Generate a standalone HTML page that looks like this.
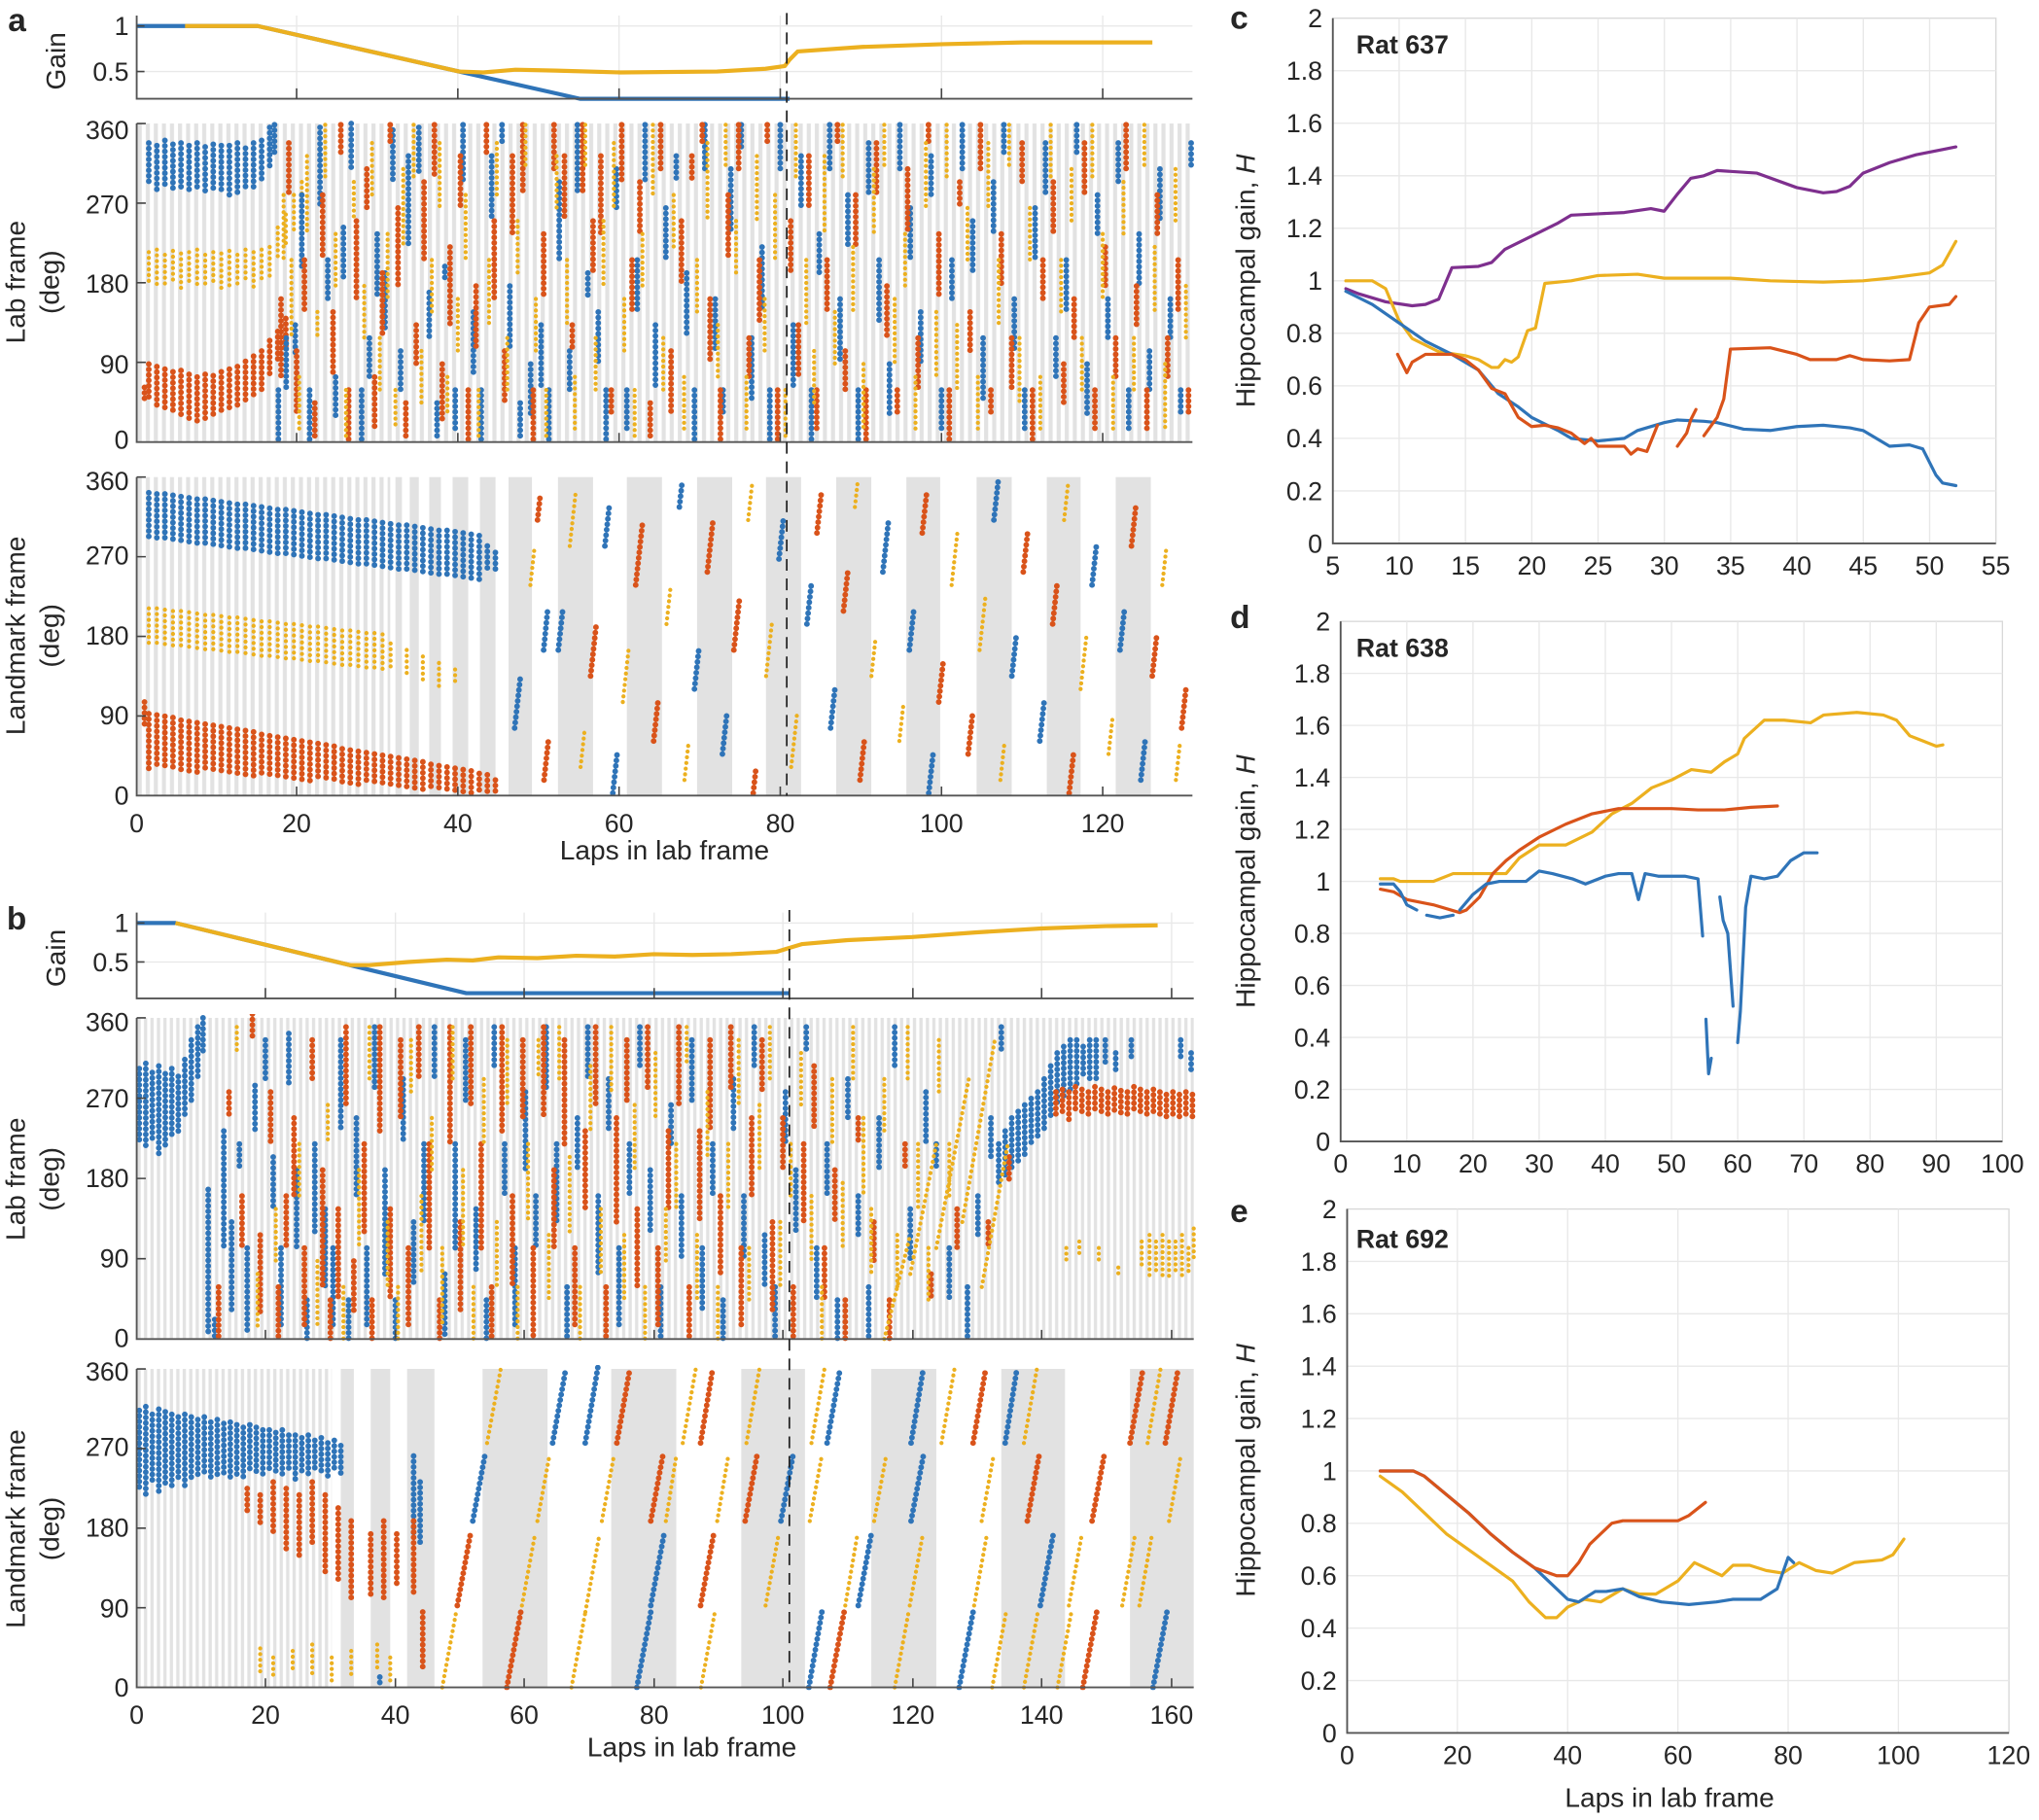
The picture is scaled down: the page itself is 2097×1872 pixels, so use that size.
<!DOCTYPE html>
<html><head><meta charset="utf-8"><style>
html,body{margin:0;padding:0;background:#fff}
svg{display:block}
text{font-family:"Liberation Sans",sans-serif;fill:#262626}
.b,.r,.y{fill:none;stroke-linecap:round}
.b{stroke:#2f74b8;stroke-width:4.4;stroke-dasharray:0 4.2}
.r{stroke:#d9531a;stroke-width:4.4;stroke-dasharray:0 4.2}
.y{stroke:#ecb01f;stroke-width:3.2;stroke-dasharray:0 4.4}
.ax{fill:none;stroke:#555;stroke-width:1.4}
.tk{fill:none;stroke:#444;stroke-width:1.2}
.gr{fill:none;stroke:#e8e8e8;stroke-width:1}
.ln{fill:none;stroke-width:3.2;stroke-linejoin:round;stroke-linecap:round;vector-effect:non-scaling-stroke}
.gl{fill:none;stroke-width:4.2;stroke-linejoin:round;vector-effect:non-scaling-stroke}
</style></head><body>
<svg xmlns="http://www.w3.org/2000/svg" width="2097" height="1872" viewBox="0 0 1568 1400">
<defs>
<pattern id="pa" patternUnits="userSpaceOnUse" x="105" y="0" width="6.2" height="20"><rect x="0.8" y="0" width="3.1" height="20" fill="#e2e2e2"/></pattern>
<pattern id="pb" patternUnits="userSpaceOnUse" x="105" y="0" width="4.97" height="20"><rect x="0.6" y="0" width="2.5" height="20" fill="#e2e2e2"/></pattern>
<clipPath id="cla"><rect x="103" y="92" width="816" height="250"/></clipPath>
<clipPath id="cma"><rect x="103" y="364" width="816" height="250"/></clipPath>
<clipPath id="clb"><rect x="103" y="780" width="817" height="252"/></clipPath>
<clipPath id="cmb"><rect x="103" y="1050" width="817" height="250"/></clipPath>
</defs>
<rect width="1568" height="1400" fill="#fff"/>

<rect x="105" y="95" width="812" height="245" fill="url(#pa)"/>
<rect x="105" y="367" width="195" height="245" fill="url(#pa)"/>
<g fill="#e2e2e2">
<rect x="304" y="367" width="5" height="245"/><rect x="315" y="367" width="7" height="245"/><rect x="330" y="367" width="9" height="245"/><rect x="348" y="367" width="12" height="245"/><rect x="369" y="367" width="12" height="245"/>
<rect x="391" y="367" width="18" height="245"/><rect x="429" y="367" width="27" height="245"/><rect x="482" y="367" width="27" height="245"/><rect x="536" y="367" width="27" height="245"/><rect x="589" y="367" width="27" height="245"/><rect x="643" y="367" width="27" height="245"/><rect x="697" y="367" width="26" height="245"/><rect x="751" y="367" width="27" height="245"/><rect x="805" y="367" width="26" height="245"/><rect x="858" y="367" width="27" height="245"/>
</g>
<rect x="105" y="783" width="813" height="247" fill="url(#pb)"/>
<rect x="105" y="1053" width="150" height="245" fill="url(#pb)"/>
<g fill="#e2e2e2">
<rect x="262" y="1053" width="10" height="245"/><rect x="285" y="1053" width="15" height="245"/><rect x="313" y="1053" width="21" height="245"/><rect x="371" y="1053" width="50" height="245"/><rect x="470" y="1053" width="50" height="245"/><rect x="570" y="1053" width="49" height="245"/><rect x="670" y="1053" width="50" height="245"/><rect x="770" y="1053" width="49" height="245"/><rect x="869" y="1053" width="49" height="245"/>
</g>

<path class="gr" d="M105 20H917M105 55H917M228 12V76M352 12V76M476 12V76M600 12V76M724 12V76M848 12V76"/>
<path class="gr" d="M105 710H918M105 740H918M204 702V768M304 702V768M403 702V768M503 702V768M602 702V768M702 702V768M801 702V768M901 702V768"/>

<g clip-path="url(#cla)">
<path class="b" d="M114.3 110V142M120.5 112V146M126.7 108V144M132.9 111V148M139.1 110V146M145.3 112V149M151.5 110V147M157.7 113V150M163.9 111V148M170.1 112V147M176.3 112V150M182.5 110V148M188.7 114V146M194.9 110V145M201.1 108V140M207.3 98V130M211 96V118"/>
<path class="y" d="M114.3 194V218M120.5 192V222M126.7 196V220M132.9 193V219M139.1 195V223M145.3 194V218M151.5 192V221M157.7 196V222M163.9 194V218M170.1 195V224M176.3 193V220M182.5 196V219M188.7 192V217M194.9 194V221M201.1 192V218M207.3 190V214M213.5 175V200M219.7 165V190M225.9 150V180M232 140V165"/>
<path class="r" d="M111 298V310M114.3 280V308M120.5 282V312M126.7 284V316M132.9 286V318M139.1 285V320M145.3 288V322M151.5 290V324M157.7 288V322M163.9 289V320M170.1 286V318M176.3 284V316M182.5 282V312M188.7 278V310M194.9 274V306M201.1 270V300M207.3 262V290M213.5 255V280M219.7 245V270"/>
<path class="b" d="M214 300V338M220 260V300M227 250V275M232 150V205M238 300V340M246 98V160M252 200V230M258 290V320M264 175V215M270 95V130M278 300V340M284 260V290M290 180V230M296 210V255M302 100V140M308 270V300M314 120V190M322 98V135M330 225V260M336 310V338M342 205V215M350 300V330M356 96V140M364 240V290M370 300V338M378 120V170M386 96V110M392 220V270M400 310V338M408 280V320M416 250V300M422 300V338M430 140V200M438 270V300M444 96V150M452 210V230M460 240V280M466 300V340M474 130V160M482 300V330M490 200V240M496 96V140M504 250V300M512 160V200M520 120V140M528 210V260M534 300V338M542 96V130M550 230V270M556 300V320M562 130V180M570 96V115M578 260V310M586 190V240M592 300V338M600 96V130M610 250V300M616 120V160M624 300V338M630 180V210M638 96V130M646 230V280M652 150V190M660 300V338M668 110V150M676 200V250M684 280V320M692 96V130M700 160V200M708 240V280M716 120V150M724 300V330M732 200V230M740 96V130M748 170V210M756 260V310M764 140V180M772 96V120M780 230V270M788 300V330M796 160V200M804 110V150M812 260V290M820 200V240M828 96V120M836 280V320M844 150V180M852 230V260M860 110V140M868 300V330M876 180V220M884 270V300M892 130V170M900 230V260M908 300V320M916 110V130"/>
<path class="r" d="M216 230V290M222 110V150M228 270V320M234 200V240M242 310V338M248 150V200M256 240V290M262 96V120M268 300V338M274 170V230M282 130V160M288 290V330M294 210V260M300 96V110M306 160V220M312 310V338M320 250V280M326 140V200M334 96V135M340 280V325M346 190V250M354 120V160M360 300V338M366 220V270M374 96V120M380 170V230M388 270V310M394 120V180M402 96V150M410 300V338M418 180V230M426 96V130M434 120V170M440 250V270M448 96V150M456 170V210M462 120V180M470 300V320M478 96V140M486 200V240M492 140V180M500 310V338M508 96V130M516 270V320M524 170V220M532 120V140M540 96V110M546 230V280M554 300V338M560 150V200M568 96V130M576 260V290M584 200V250M590 96V110M598 300V338M608 170V210M614 250V290M622 120V160M628 300V330M636 200V240M644 96V110M650 270V300M658 150V190M666 300V338M674 110V150M682 220V260M690 300V320M698 130V180M706 260V300M714 96V110M722 180V230M730 300V338M738 140V160M746 240V270M754 96V130M762 300V320M770 180V220M778 260V300M786 110V140M794 300V338M802 200V230M810 140V180M818 280V310M826 230V260M834 110V150M842 300V330M850 190V220M858 260V290M866 96V130M874 220V250M882 300V330M890 150V180M898 260V290M906 200V240M914 300V320"/>
<path class="y" d="M218 150V200M224 200V260M230 290V330M236 120V180M244 240V260M250 96V140M258 180V220M266 300V338M272 140V170M280 220V260M286 110V150M292 260V300M298 180V230M304 300V330M310 130V190M318 96V140M324 270V310M332 200V240M338 110V160M344 290V320M352 230V270M358 150V200M368 300V338M376 200V250M382 110V150M390 260V300M398 170V210M404 96V130M412 230V270M420 300V338M428 120V160M436 200V250M442 290V330M450 96V130M458 260V300M464 170V220M472 110V160M480 230V270M488 300V338M494 180V220M502 96V150M510 260V300M518 150V190M526 290V330M536 200V240M544 110V170M552 250V290M558 96V130M566 170V210M574 290V330M582 120V170M588 230V270M596 150V200M604 300V338M612 96V140M620 200V250M626 270V310M634 120V180M642 240V280M648 96V140M656 190V240M664 280V330M672 130V180M680 96V130M688 230V280M696 180V220M704 290V330M712 110V160M720 240V290M728 96V140M736 250V300M744 160V200M752 290V330M760 110V160M768 200V250M776 96V130M784 260V310M792 160V200M800 290V330M808 96V140M816 200V240M824 130V170M832 260V300M840 96V140M848 180V230M856 290V330M864 140V180M872 260V300M880 96V130M888 190V240M896 280V330M904 130V170M912 220V260"/>
</g>

<g clip-path="url(#cma)">
<path class="b" d="M114.3 379V416M120.5 380V417M126.7 380V417M132.9 381V418M139.1 382V419M145.3 383V420M151.5 384V421M157.7 384V421M163.9 385V422M170.1 386V423M176.3 387V424M182.5 388V425M188.7 388V425M194.9 389V426M201.1 390V427M207.3 391V428M213.5 392V429M219.7 392V429M225.9 393V430M232.1 394V431M238.3 395V432M244.5 396V433M250.7 396V433M256.9 397V434M263.1 398V435M269.3 399V436M275.5 400V437M281.7 400V437M287.9 401V438M294.1 402V439M300.3 403V440M306.5 404V441M312.7 404V441M318.9 405V442M325.1 406V443M331.3 407V444M337.5 408V445M343.7 408V445M349.9 409V446M356.1 410V447M362.3 411V448M368.5 412V449M374.7 420V440M380.9 425V440"/>
<path class="y" d="M114.3 468V498M120.5 468V498M126.7 469V499M132.9 470V500M139.1 470V500M145.3 471V501M151.5 472V502M157.7 473V503M163.9 473V503M170.1 474V504M176.3 475V505M182.5 475V505M188.7 476V506M194.9 477V507M201.1 478V508M207.3 478V508M213.5 479V509M219.7 480V510M225.9 480V510M232.1 481V511M238.3 482V512M244.5 482V512M250.7 483V513M256.9 484V514M263.1 485V515M269.3 485V515M275.5 486V516M281.7 487V517M287.9 487V517M294.1 488V518M300.3 495V515M312.7 500V520M325.1 505V525M337.5 510V530M349.9 515V525"/>
<path class="r" d="M111 540V560M114.3 549V591M120.5 550V591M126.7 551V592M132.9 552V592M139.1 554V593M145.3 555V593M151.5 556V594M157.7 557V594M163.9 558V595M170.1 559V595M176.3 560V596M182.5 561V596M188.7 562V597M194.9 563V597M201.1 565V598M207.3 566V598M213.5 567V599M219.7 568V599M225.9 569V600M232.1 570V600M238.3 571V601M244.5 572V601M250.7 573V602M256.9 574V602M263.1 576V603M269.3 577V603M275.5 578V604M281.7 579V604M287.9 580V605M294.1 581V605M300.3 582V606M306.5 583V606M312.7 584V607M318.9 585V607M325.1 586V608M331.3 588V608M337.5 589V609M343.7 590V609M349.9 591V610M356.1 592V610M362.3 593V611M368.5 595V611M374.7 596V612M380.9 600V612"/>
<path class="b" d="M395.7 560L400.2 520M418 500L421 470M465.1 420L468.4 390M471.2 610L474.5 580M522.4 390L524.6 370M534 530L537.3 500M555.5 580L558.8 550M599 430L602.3 400M620.5 480L623.8 450M638.7 560L642 530M678.9 440L683.3 400M699.3 500L702.6 470M714.2 610L717.5 580M764.3 400L767.6 370M778.1 520L781.4 490M799.6 570L802.9 540M839.8 450L843.1 420M861.3 500L864.6 470M877.3 600L880.6 570M429.3 500L432.6 470"/>
<path class="y" d="M407.8 450L411.1 420M438.1 420L442.5 380M446.4 590L449.7 560M478.9 540L483.3 500M512.5 480L515.8 450M526.3 600L529.6 570M575.3 400L578.6 370M589.1 520L593.5 480M608.4 590L612.8 550M657.4 390L659.6 370M670.1 520L673.4 490M691.6 570L694.9 540M731.8 450L736.2 410M753.3 500L757.7 460M769.3 600L772.6 570M818.3 400L821.6 370M831 530L835.4 490M852.5 580L855.8 550M893.8 450L897.1 420M904.3 600L907.6 570"/>
<path class="r" d="M413.3 400L415.5 380M418.3 600L421.6 570M454.1 520L458.5 480M488.8 450L494.3 400M502.6 570L505.9 540M543.9 440L548.3 400M564.3 500L568.7 460M579.2 610L581.4 590M628.2 410L631.5 380M648.6 470L651.9 440M661.3 600L664.6 570M709.2 410L712.5 380M721.9 540L725.2 510M744.5 580L747.8 550M786.9 440L790.2 410M809.5 480L812.8 450M822.2 610L825.5 580M870.1 420L873.4 390M886.1 520L889.4 490M908.7 560L912 530"/>
</g>

<g clip-path="url(#clb)">
<path class="b" d="M107 822V880M112 818V884M117 825V878M122 820V888M127 826V882M132 822V876M137 828V870M142 815V860M147 800V850M152 790V830M156 783V810M160 915V1028M165 1015V1030M172 870V960M178 940V1010M184 880V900M190 960V1025M196 835V870M204 800V830M210 890V930M216 960V1020M222 795V835M228 900V960M236 1000V1030M242 880V950M250 930V990M256 960V1020M262 800V870M268 1000V1030M274 860V920M282 960V1020M288 790V840M296 900V980M304 1000V1030M310 830V880M318 940V990M326 880V940M334 790V830M342 980V1030M350 880V960M358 800V850M366 930V980M374 1000V1030M380 790V820M388 880V920M396 960V1020M404 840V900M412 920V960M420 790V840M428 880V940M436 990V1030M444 860V900M452 790V830M460 920V980M468 830V870M476 960V1020M484 880V920M492 790V820M500 900V950M508 990V1030M516 850V880M524 920V970M532 800V850M540 960V1010M548 880V920M556 1000V1030M564 830V870M572 920V970M580 790V820M588 950V990M596 990V1030M604 840V880M612 900V950M620 790V810M628 960V1000M636 880V920M644 1000V1030M652 830V860M660 920V950M668 990V1030M676 860V900M688 790V820M700 930V970M712 840V880M720 880V900M730 960V1000M744 990V1030M752 920V950M762 860V890M770 790V810"/>
<path class="b" d="M768 880V910M773 870V905M778 860V900M783 855V895M788 850V890M793 845V880M798 840V875M803 830V870M808 820V860M813 810V850M818 805V845M823 800V840M828 800V835M833 805V830M838 800V830M843 800V830M850 800V820M858 810V825M870 800V815M908 800V815M916 810V825"/>
<path class="r" d="M168 990V1030M176 840V860M186 920V960M194 780V800M200 950V1010M208 840V880M214 990V1030M220 920V960M226 860V920M234 960V1020M240 800V830M248 900V990M254 1000V1030M260 930V1000M266 790V850M272 970V1010M280 880V950M286 1000V1030M292 790V870M300 930V1000M308 800V860M314 960V1020M322 790V830M330 880V960M338 1000V1030M346 790V880M354 940V1010M362 790V850M370 880V960M378 990V1030M386 790V870M394 920V990M402 800V860M410 960V1030M418 790V860M426 900V960M434 800V880M442 960V1020M450 870V930M458 790V850M466 990V1030M474 860V940M482 800V850M490 930V990M498 790V840M506 960V1020M514 870V930M522 790V850M530 990V1030M538 870V940M546 800V870M554 920V980M562 790V840M570 960V1020M578 860V920M586 800V840M594 940V1010M602 860V900M610 990V1030M618 880V940M626 820V870M634 960V1000M642 900V940M650 1000V1030M660 860V880M672 940V970M684 1000V1030M696 880V900M716 980V1000M736 930V960M760 940V960M776 890V910"/>
<path class="r" d="M812 840V860M817 838V858M822 840V862M827 836V856M832 838V858M837 840V860M842 836V856M847 838V858M852 840V860M857 837V857M862 839V859M867 840V860M872 836V856M877 838V858M882 840V860M887 838V858M892 840V860M897 842V862M902 840V860M907 842V862M912 840V860M917 842V862"/>
<path class="y" d="M182 790V810M198 980V1020M212 930V970M230 880V920M244 970V1020M252 850V880M264 990V1030M276 900V960M284 790V830M298 940V990M306 990V1030M316 800V840M324 920V980M332 860V900M340 960V1020M348 790V830M356 900V960M364 990V1030M372 830V880M382 940V990M390 800V850M398 990V1030M406 880V940M414 800V830M422 950V1000M430 790V830M438 890V950M446 990V1030M454 820V870M462 930V980M470 790V840M480 950V1000M488 850V900M496 990V1030M504 810V860M512 930V970M520 880V930M528 790V820M536 950V1000M544 840V890M552 990V1030M560 880V930M568 800V850M576 960V1000M584 850V900M592 790V830M600 940V990M608 880V920M616 810V850M624 920V970M632 990V1030M640 830V880M648 910V960M656 790V830M664 860V920M670 930V980M680 830V870M690 950V990M698 790V830M706 880V930M714 960V1000M722 800V840M730 880V920M680 1030L700 950M700 980L720 880M720 960L745 830M740 940L765 800M755 990L775 880M820 960V970M830 955V965M845 960V970M860 975V980M878 955V975M884 950V985M889 955V980M894 950V985M899 955V985M904 955V980M909 950V985M914 960V980M918 945V970"/>
</g>

<g clip-path="url(#cmb)">
<path class="b" d="M107 1085V1145M112 1082V1150M117 1088V1140M122 1084V1148M127 1086V1142M132 1088V1146M137 1090V1140M142 1088V1144M147 1090V1140M152 1092V1138M157 1090V1136M162 1094V1138M167 1092V1136M172 1095V1134M177 1094V1138M182 1096V1134M187 1098V1136M192 1096V1132M197 1098V1134M202 1100V1136M207 1100V1132M212 1102V1134M217 1100V1136M222 1104V1132M227 1104V1138M232 1106V1134M237 1104V1136M242 1108V1132M247 1106V1134M252 1110V1136M257 1108V1130M262 1112V1134M318 1120V1180M323 1140V1190M292 1290V1298"/>
<path class="r" d="M190 1145V1165M200 1150V1175M210 1140V1180M220 1145V1195M230 1150V1200M240 1140V1190M250 1150V1210M260 1160V1215M270 1170V1230M285 1180V1230M295 1170V1230M305 1180V1220M318 1170V1225M325 1240V1285"/>
<path class="y" d="M200 1268V1290M210 1275V1290M225 1270V1285M240 1265V1290M255 1275V1295M270 1270V1290M290 1265V1285M300 1275V1295"/>
<path class="y" d="M340 1298L350.7 1240M374.5 1110L385 1053M439.4 1298L450.1 1240M450.1 1240L461 1180M539 1298L549.7 1240M574 1110L584 1053M588.7 1235L598.8 1180M622.7 1170L631.9 1120M688 1298L698.7 1240M699.6 1235L709.7 1180M754.9 1170L764 1120M787.4 1110L797.4 1053M822 1235L832 1180M882.5 1110L892.5 1053M937 1298L947 1240M787.4 1298L798.1 1240M876.2 1235L886 1180"/>
<path class="r" d="M351.6 1235L361.7 1180M389.7 1298L400.4 1240M474.3 1110L484.3 1053M500.4 1170L509.6 1120M538.7 1235L548.8 1180M538.7 1110L548 1053M573 1170L582 1120M638.4 1298L649.1 1240M748.3 1110L758 1053M790 1170L799 1120M832.7 1298L843.4 1240M839.8 1170L849 1120M869 1110L879 1053M896.2 1110L906 1053"/>
<path class="b" d="M363.5 1170L372.7 1120M424.9 1110L435 1053M450 1110L460 1050M489.7 1298L500.4 1240M500.4 1235L510.6 1180M600.5 1170L609.7 1120M636 1110L646 1053M660 1235L670 1180M700.6 1170L710 1120M700.6 1110L710 1053M737.6 1298L748.3 1240M773 1110L782 1053M886.7 1298L897.4 1240M800 1235L810 1180M622 1298L632 1240"/>
<path class="y" d="M401.3 1235L411.4 1180M413.2 1170L422.4 1120M462.8 1170L472 1120M512 1170L520 1120M525 1110L535 1053M551.5 1170L560 1120M624 1110L634 1053M650 1235L659.4 1180M672.2 1170L681.4 1120M724 1110L734 1053M749.1 1235L759 1180M763 1298L773.7 1240M813.2 1298L823.9 1240M863 1235L873 1180M899 1170L908 1120"/>
</g>

<g transform="translate(105,90) scale(6.2,-70)">
<polyline class="gl" stroke="#2f74b8" points="0,1 15,1 40,0.5 55,0.2 81,0.2"/>
<polyline class="gl" stroke="#ecb01f" points="6,1 15,1 40,0.5 43,0.49 47,0.52 52,0.51 60,0.49 72,0.5 78,0.53 80.4,0.56 81,0.63 82,0.72 90,0.77 100,0.8 110,0.82 126,0.82"/>
</g>
<g transform="translate(105,770) scale(4.97,-60)">
<polyline class="gl" stroke="#2f74b8" points="0,1 6,1 51,0.1 101,0.1"/>
<polyline class="gl" stroke="#ecb01f" points="6,1 33,0.46 36,0.46 42,0.5 48,0.53 52,0.52 56,0.56 62,0.55 68,0.58 74,0.57 80,0.6 86,0.59 92,0.6 99,0.63 101,0.68 103,0.73 110,0.78 120,0.82 130,0.88 140,0.93 150,0.96 158,0.97"/>
</g>

<path class="ax" d="M105 12V76H917M105 95V340H917M105 367V612H917"/>
<path class="tk" d="M228 76V68M352 76V68M476 76V68M600 76V68M724 76V68M848 76V68M228 340V333M352 340V333M476 340V333M600 340V333M724 340V333M848 340V333M228 612V605M352 612V605M476 612V605M600 612V605M724 612V605M848 612V605M105 278.75H112M105 217.5H112M105 156.25H112M105 95H112M105 550.75H112M105 489.5H112M105 428.25H112M105 367H112M105 20H111M105 55H111"/>
<path class="ax" d="M105 702V768H918M105 783V1030H918M105 1053V1298H918"/>
<path class="tk" d="M204 768V760M304 768V760M403 768V760M503 768V760M602 768V760M702 768V760M801 768V760M901 768V760M204 1030V1023M304 1030V1023M403 1030V1023M503 1030V1023M602 1030V1023M702 1030V1023M801 1030V1023M901 1030V1023M204 1298V1291M304 1298V1291M403 1298V1291M503 1298V1291M602 1298V1291M702 1298V1291M801 1298V1291M901 1298V1291M105 968.25H112M105 906.5H112M105 844.75H112M105 783H112M105 1236.75H112M105 1175.5H112M105 1114.25H112M105 1053H112M105 710H111M105 740H111"/>
<path d="M605 10V612" stroke="#222" stroke-width="1.3" stroke-dasharray="9,6" fill="none"/>
<path d="M607 700V1298" stroke="#222" stroke-width="1.3" stroke-dasharray="9,6" fill="none"/>

<rect x="1025" y="14" width="510" height="404" fill="none" stroke="#d8d8d8"/>
<path class="gr" d="M1025 377.6H1535M1025 337.2H1535M1025 296.8H1535M1025 256.4H1535M1025 216H1535M1025 175.6H1535M1025 135.2H1535M1025 94.8H1535M1025 54.4H1535M1076 14V418M1127 14V418M1178 14V418M1229 14V418M1280 14V418M1331 14V418M1382 14V418M1433 14V418M1484 14V418"/>
<path class="ax" d="M1025 14V418H1535"/>
<g transform="translate(973.8,418) scale(10.2,-202)">
<polyline class="ln" stroke="#7e2f8e" points="6,0.97 7,0.95 9,0.92 11,0.905 12,0.91 13,0.93 14,1.05 16,1.055 17,1.07 18,1.12 20,1.17 22,1.22 23,1.25 25,1.255 27,1.26 29,1.275 30,1.265 31,1.33 32,1.39 33,1.40 34,1.42 37,1.41 40,1.355 42,1.335 43,1.34 44,1.36 45,1.41 47,1.45 49,1.48 51,1.50 52,1.51"/>
<polyline class="ln" stroke="#ecb01f" points="6,1.0 8,1.0 9,0.97 10,0.85 11,0.78 13,0.73 15,0.715 16,0.70 17,0.67 17.5,0.67 18,0.70 18.5,0.69 19,0.71 19.7,0.81 20.3,0.82 21,0.99 23,1.0 25,1.02 28,1.025 30,1.01 35,1.01 38,1.0 42,0.995 45,1.0 47,1.01 50,1.03 51,1.06 52,1.15"/>
<polyline class="ln" stroke="#2f74b8" points="6,0.96 8,0.91 10,0.84 12,0.77 14,0.72 16,0.66 17.5,0.57 19,0.52 20,0.48 22,0.43 23,0.40 25,0.39 27,0.40 28,0.43 30,0.46 31,0.47 33,0.465 34,0.46 36,0.435 38,0.43 40,0.445 42,0.45 44,0.44 45,0.43 46,0.40 47,0.37 48.5,0.375 49.5,0.36 50.5,0.26 51,0.23 52,0.22"/>
<polyline class="ln" stroke="#d9531a" points="9.9,0.72 10.3,0.68 10.6,0.65 11,0.69 12,0.72 14,0.72 15,0.70 16,0.66 17,0.59 18,0.57 19,0.48 20,0.445 21,0.45 22,0.44 23,0.42 24,0.38 24.5,0.40 25,0.37 27,0.37 27.5,0.34 28,0.36 28.7,0.35 29.5,0.45"/>
<polyline class="ln" stroke="#d9531a" points="31,0.37 31.7,0.42 32,0.47 32.4,0.51"/>
<polyline class="ln" stroke="#d9531a" points="33,0.41 34,0.48 34.5,0.55 35,0.74 38,0.745 40,0.72 41,0.70 43,0.70 44,0.715 45,0.70 47,0.695 48.5,0.70 49.2,0.84 50,0.9 51.5,0.91 52,0.94"/>
</g>
<g font-size="20" text-anchor="end">
<text x="1017" y="425">0</text><text x="1017" y="384.6">0.2</text><text x="1017" y="344.2">0.4</text><text x="1017" y="303.8">0.6</text><text x="1017" y="263.4">0.8</text><text x="1017" y="223">1</text><text x="1017" y="182.6">1.2</text><text x="1017" y="142.2">1.4</text><text x="1017" y="101.8">1.6</text><text x="1017" y="61.4">1.8</text><text x="1017" y="21">2</text>
</g>
<g font-size="20" text-anchor="middle">
<text x="1025" y="442">5</text><text x="1076" y="442">10</text><text x="1127" y="442">15</text><text x="1178" y="442">20</text><text x="1229" y="442">25</text><text x="1280" y="442">30</text><text x="1331" y="442">35</text><text x="1382" y="442">40</text><text x="1433" y="442">45</text><text x="1484" y="442">50</text><text x="1535" y="442">55</text>
</g>

<rect x="1031" y="478" width="509" height="400" fill="none" stroke="#d8d8d8"/>
<path class="gr" d="M1031 838H1540M1031 798H1540M1031 758H1540M1031 718H1540M1031 678H1540M1031 638H1540M1031 598H1540M1031 558H1540M1031 518H1540M1081.9 478V878M1132.8 478V878M1183.7 478V878M1234.6 478V878M1285.5 478V878M1336.4 478V878M1387.3 478V878M1438.2 478V878M1489.1 478V878"/>
<path class="ax" d="M1031 478V878H1540"/>
<g transform="translate(1031,878) scale(5.09,-200)">
<polyline class="ln" stroke="#ecb01f" points="6,1.01 8,1.01 9,1.0 14,1.0 17,1.03 21,1.03 25,1.03 27,1.09 30,1.14 34,1.14 38,1.19 41,1.26 44,1.30 47,1.36 50,1.39 53,1.43 56,1.42 58,1.46 60,1.49 61,1.55 64,1.62 67,1.62 71,1.61 73,1.64 78,1.65 82,1.64 84,1.62 86,1.56 88,1.54 90,1.52 91,1.525"/>
<polyline class="ln" stroke="#d9531a" points="6,0.97 8,0.96 10,0.93 14,0.91 18,0.88 19,0.89 21,0.94 23,1.03 25,1.08 27,1.12 30,1.17 34,1.22 38,1.26 42,1.28 46,1.28 50,1.28 54,1.275 58,1.275 62,1.285 66,1.29"/>
<polyline class="ln" stroke="#2f74b8" points="6,0.99 8,0.99 9,0.96 10,0.91 11.5,0.89"/>
<polyline class="ln" stroke="#2f74b8" points="13,0.87 15,0.86 17,0.87"/>
<polyline class="ln" stroke="#2f74b8" points="18,0.89 20,0.95 22,0.99 24,1.0 28,1.0 30,1.04 32,1.03 35,1.01 37,0.99 40,1.02 42,1.03 44,1.03 45,0.93 46,1.03 48,1.02 52,1.02 54,1.01 54.7,0.79"/>
<polyline class="ln" stroke="#2f74b8" points="55.2,0.47 55.6,0.26 56,0.32"/>
<polyline class="ln" stroke="#2f74b8" points="57.3,0.94 57.8,0.85 58.5,0.8 59.3,0.52"/>
<polyline class="ln" stroke="#2f74b8" points="60,0.38 60.4,0.5 61.2,0.9 62,1.02 64,1.01 66,1.02 68,1.08 70,1.11 72,1.11"/>
</g>
<g font-size="20" text-anchor="end">
<text x="1023" y="885">0</text><text x="1023" y="845">0.2</text><text x="1023" y="805">0.4</text><text x="1023" y="765">0.6</text><text x="1023" y="725">0.8</text><text x="1023" y="685">1</text><text x="1023" y="645">1.2</text><text x="1023" y="605">1.4</text><text x="1023" y="565">1.6</text><text x="1023" y="525">1.8</text><text x="1023" y="485">2</text>
</g>
<g font-size="20" text-anchor="middle">
<text x="1031" y="902">0</text><text x="1081.9" y="902">10</text><text x="1132.8" y="902">20</text><text x="1183.7" y="902">30</text><text x="1234.6" y="902">40</text><text x="1285.5" y="902">50</text><text x="1336.4" y="902">60</text><text x="1387.3" y="902">70</text><text x="1438.2" y="902">80</text><text x="1489.1" y="902">90</text><text x="1540" y="902">100</text>
</g>

<rect x="1036" y="930" width="509" height="403" fill="none" stroke="#d8d8d8"/>
<path class="gr" d="M1036 1292.7H1545M1036 1252.4H1545M1036 1212.1H1545M1036 1171.8H1545M1036 1131.5H1545M1036 1091.2H1545M1036 1050.9H1545M1036 1010.6H1545M1036 970.3H1545M1120.8 930V1333M1205.6 930V1333M1290.4 930V1333M1375.2 930V1333M1460 930V1333"/>
<path class="ax" d="M1036 930V1333H1545"/>
<g transform="translate(1036,1333) scale(4.24,-201.5)">
<polyline class="ln" stroke="#ecb01f" points="6,0.98 10,0.92 14,0.84 18,0.76 22,0.70 26,0.64 30,0.58 33,0.50 36,0.44 38,0.44 40,0.48 43,0.51 46,0.50 50,0.55 53,0.53 56,0.53 60,0.58 63,0.65 66,0.62 68,0.60 70,0.64 73,0.64 76,0.62 79,0.61 82,0.65 85,0.62 88,0.61 92,0.65 97,0.66 99,0.68 101,0.74"/>
<polyline class="ln" stroke="#2f74b8" points="6,1.0 12,1.0 14,0.98 18,0.91 22,0.84 26,0.76 30,0.69 34,0.63 37,0.57 40,0.51 42,0.50 45,0.54 47,0.54 50,0.55 53,0.52 57,0.50 62,0.49 67,0.50 70,0.51 75,0.51 78,0.55 80,0.67 81,0.65"/>
<polyline class="ln" stroke="#d9531a" points="6,1.0 12,1.0 14,0.98 18,0.91 22,0.84 26,0.76 30,0.69 34,0.63 38,0.60 40,0.60 42,0.65 44,0.72 46,0.76 48,0.80 50,0.81 55,0.81 60,0.81 62,0.83 65,0.88"/>
</g>
<g font-size="20" text-anchor="end">
<text x="1028" y="1340">0</text><text x="1028" y="1299.7">0.2</text><text x="1028" y="1259.4">0.4</text><text x="1028" y="1219.1">0.6</text><text x="1028" y="1178.8">0.8</text><text x="1028" y="1138.5">1</text><text x="1028" y="1098.2">1.2</text><text x="1028" y="1057.9">1.4</text><text x="1028" y="1017.6">1.6</text><text x="1028" y="977.3">1.8</text><text x="1028" y="937">2</text>
</g>
<g font-size="20" text-anchor="middle">
<text x="1036" y="1357">0</text><text x="1120.8" y="1357">20</text><text x="1205.6" y="1357">40</text><text x="1290.4" y="1357">60</text><text x="1375.2" y="1357">80</text><text x="1460" y="1357">100</text><text x="1544.8" y="1357">120</text>
</g>

<text x="6" y="24" font-size="25" font-weight="bold">a</text>
<text x="5" y="715" font-size="25" font-weight="bold">b</text>
<text x="946" y="22" font-size="25" font-weight="bold">c</text>
<text x="946" y="483" font-size="25" font-weight="bold">d</text>
<text x="946" y="940" font-size="25" font-weight="bold">e</text>
<g font-size="20" text-anchor="end">
<text x="99" y="27">1</text><text x="99" y="62">0.5</text>
<text x="99" y="107">360</text><text x="99" y="164">270</text><text x="99" y="225">180</text><text x="99" y="287">90</text><text x="99" y="345">0</text>
<text x="99" y="377">360</text><text x="99" y="434">270</text><text x="99" y="496">180</text><text x="99" y="557">90</text><text x="99" y="619">0</text>
<text x="99" y="717">1</text><text x="99" y="747">0.5</text>
<text x="99" y="793">360</text><text x="99" y="852">270</text><text x="99" y="913">180</text><text x="99" y="975">90</text><text x="99" y="1036">0</text>
<text x="99" y="1062">360</text><text x="99" y="1120">270</text><text x="99" y="1182">180</text><text x="99" y="1244">90</text><text x="99" y="1305">0</text>
</g>
<g font-size="21" text-anchor="middle">
<text transform="translate(50,47) rotate(-90)">Gain</text>
<text transform="translate(19,217) rotate(-90)">Lab frame</text>
<text transform="translate(45,217) rotate(-90)">(deg)</text>
<text transform="translate(19,489) rotate(-90)">Landmark frame</text>
<text transform="translate(45,489) rotate(-90)">(deg)</text>
<text transform="translate(50,737) rotate(-90)">Gain</text>
<text transform="translate(19,907) rotate(-90)">Lab frame</text>
<text transform="translate(45,907) rotate(-90)">(deg)</text>
<text transform="translate(19,1176) rotate(-90)">Landmark frame</text>
<text transform="translate(45,1176) rotate(-90)">(deg)</text>
<text x="511" y="661">Laps in lab frame</text>
<text x="532" y="1351">Laps in lab frame</text>
<text x="1284" y="1390">Laps in lab frame</text>
<text transform="translate(965,216) rotate(-90)">Hippocampal gain, <tspan font-style="italic">H</tspan></text>
<text transform="translate(965,678) rotate(-90)">Hippocampal gain, <tspan font-style="italic">H</tspan></text>
<text transform="translate(965,1131) rotate(-90)">Hippocampal gain, <tspan font-style="italic">H</tspan></text>
</g>
<g font-size="20" text-anchor="middle">
<text x="105" y="640">0</text><text x="228" y="640">20</text><text x="352" y="640">40</text><text x="476" y="640">60</text><text x="600" y="640">80</text><text x="724" y="640">100</text><text x="848" y="640">120</text>
<text x="105" y="1326">0</text><text x="204" y="1326">20</text><text x="304" y="1326">40</text><text x="403" y="1326">60</text><text x="503" y="1326">80</text><text x="602" y="1326">100</text><text x="702" y="1326">120</text><text x="801" y="1326">140</text><text x="901" y="1326">160</text>
</g>
<g font-size="20" font-weight="bold">
<text x="1043" y="41">Rat 637</text>
<text x="1043" y="505">Rat 638</text>
<text x="1043" y="960">Rat 692</text>
</g>
</svg>
</body></html>
